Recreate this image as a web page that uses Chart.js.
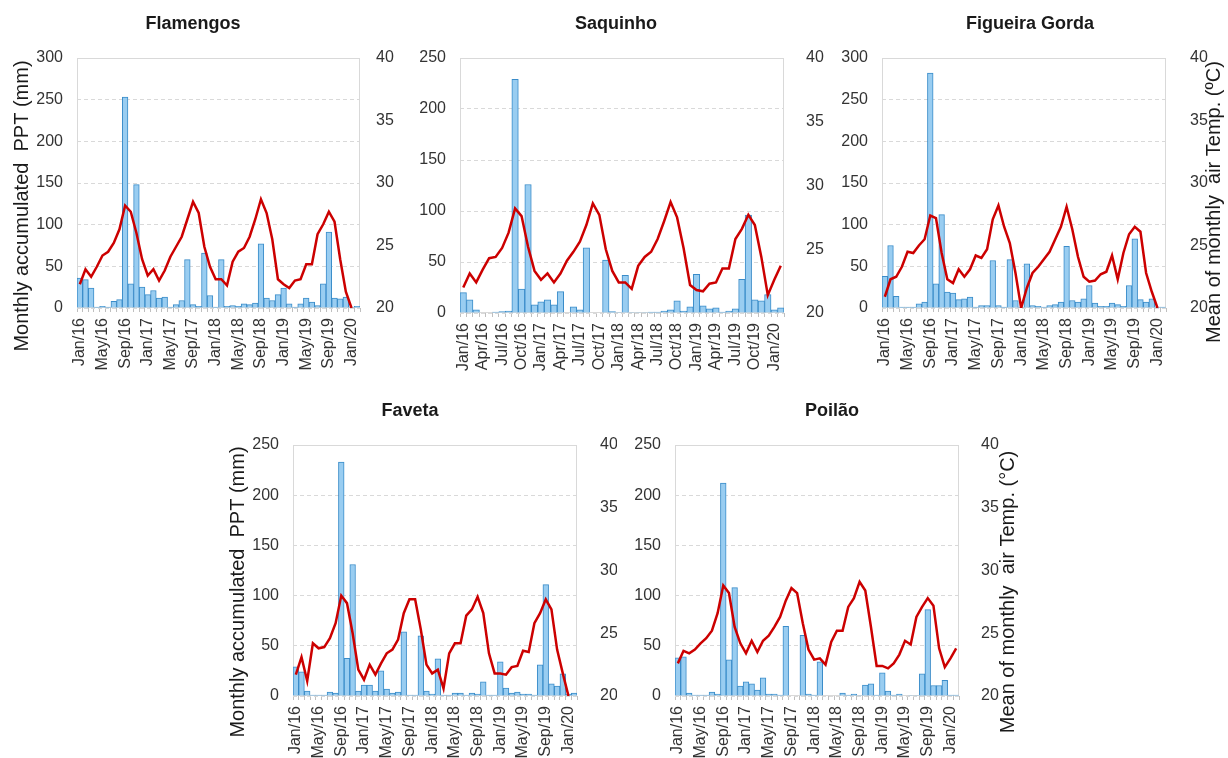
<!DOCTYPE html>
<html lang="en">
<head>
<meta charset="UTF-8">
<title>Monthly PPT and mean air temperature</title>
<script src="https://cdn.jsdelivr.net/npm/chart.js"></script>
<style>
    html, body { margin: 0; padding: 0; background: #fff; }
    #page { position: relative; width: 1228px; height: 758px; overflow: hidden; }
    #page canvas { position: absolute; }
</style>
</head>
<body>
<div id="page">
    <canvas id="flamengos"></canvas>
    <canvas id="saquinho"></canvas>
    <canvas id="figueira"></canvas>
    <canvas id="faveta"></canvas>
    <canvas id="poilao"></canvas>
</div>
<script>
// months Jan/16 .. Feb/20
const months = [
    'Jan/16','Feb/16','Mar/16','Apr/16','May/16','Jun/16','Jul/16','Aug/16','Sep/16','Oct/16','Nov/16','Dec/16',
    'Jan/17','Feb/17','Mar/17','Apr/17','May/17','Jun/17','Jul/17','Aug/17','Sep/17','Oct/17','Nov/17','Dec/17',
    'Jan/18','Feb/18','Mar/18','Apr/18','May/18','Jun/18','Jul/18','Aug/18','Sep/18','Oct/18','Nov/18','Dec/18',
    'Jan/19','Feb/19','Mar/19','Apr/19','May/19','Jun/19','Jul/19','Aug/19','Sep/19','Oct/19','Nov/19','Dec/19',
    'Jan/20','Feb/20'
];

// monthly accumulated precipitation (mm)
const pptFlamengos = [36,34,24,1,2,1,8,10, 253,29,148,25,16,21,12,13, 1,4,9,58,4,2,66,15, 1,58,2,3,2,5,4,6, 77,12,9,16,24,5,1,5, 12,7,3,29,91,12,11,13, 1,2];
const pptSaquinho = [20,13,3,0,0,1,1.5,2, 229,23.5,126,8,11,13,8,21, 0,6,3,64,0,0,52,1.5, 0.5,37,0.5,0.5,0.5,1,1,2, 3,12,2,6,38,7,4,5, 1,2,4,33,96,13,12,18, 3,5];
const pptFigueira = [38,75,14,1,1,1,5,7, 282,29,112,19,18,10,11,13, 1,3,3,57,3,1,58,9, 1,53,3,2,1,3,4,7, 74,9,7,11,27,6,2,2, 6,4,2,27,83,10,7,11, 1,1];
const pptFaveta = [29,24,5,1,1,1,4,3, 233,37.5,131,5,11,11,5,25, 7,3,4,64,1,1,60,5, 2,37,1,1,3,3,1,3, 2,14,1,1,34,8,3,4, 2,2,1,31,111,12,10,22, 2,3];
const pptPoilao = [38,39,3,1,1,1,4,2, 212,36,108,10,14,12,6,18, 2,2,1,69.5,0,0,60.5,2, 1,34,0,0,0,3,1,2, 0.5,11,12,1,23,5,1,2, 0,0.5,0.5,22,86,10.5,10.5,15.5, 1,1];

// mean of monthly air temperature (ºC)
const tempFlamengos = [21.9,23.1,22.5,23.3,24.2,24.5,25.2,26.3, 28.2,27.7,26.0,23.9,22.6,23.1,22.2,23.0, 24.1,24.9,25.7,27.1,28.5,27.6,24.9,23.3, 22.3,22.3,21.8,23.7,24.5,24.8,25.7,27.1, 28.7,27.6,25.5,22.3,21.9,21.6,22.2,22.3, 23.5,23.5,25.9,26.7,27.7,26.9,23.9,21.3, 20.0,null];
const tempSaquinho = [22.0,23.1,22.4,23.4,24.3,24.4,25.1,26.3, 28.2,27.6,25.2,23.3,22.6,23.1,22.4,23.1, 24.1,24.8,25.6,26.9,28.6,27.7,25.0,23.3, 22.4,22.4,21.9,23.7,24.4,24.8,25.8,27.2, 28.7,27.5,25.1,22.2,21.8,21.7,22.3,22.4, 23.5,23.5,25.8,26.6,27.7,26.9,24.4,21.4, 22.6,23.7];
const tempFigueira = [20.9,22.3,22.5,23.3,24.5,24.4,25.0,25.5, 27.4,27.2,24.4,22.3,22.0,23.1,22.5,23.1, 24.2,24.0,24.7,27.1,28.2,26.5,25.2,22.8, 20.0,21.6,22.8,23.3,23.9,24.5,25.5,26.5, 28.1,26.3,24.1,22.5,22.1,22.2,22.7,22.9, 24.2,22.3,24.4,25.9,26.5,26.1,22.8,21.3, 20.0,null];
const tempFaveta = [21.7,23.1,21.2,24.2,23.8,23.9,24.6,25.8, 28.0,27.4,25.0,22.1,21.3,22.5,21.7,22.6, 23.4,23.7,24.5,26.6,27.7,27.7,25.3,22.5, 21.8,22.1,20.6,23.4,24.2,24.2,26.4,26.9, 27.9,26.6,23.4,21.8,21.8,21.7,22.3,22.4, 23.6,23.5,25.8,26.6,27.7,26.9,23.7,21.8, 20.0,null];
const tempPoilao = [22.6,23.6,23.4,23.7,24.2,24.6,25.2,26.6, 28.8,28.2,25.5,24.2,23.4,24.4,23.5,24.4, 24.8,25.5,26.3,27.6,28.6,28.2,25.8,23.7, 22.9,23.0,22.5,24.3,25.2,25.2,27.1,27.8, 29.1,28.4,25.5,22.4,22.4,22.2,22.6,23.3, 24.4,24.1,26.3,27.1,27.8,27.2,23.8,22.3, 23.0,23.8];

const pptTitle = 'Monthly accumulated  PPT (mm)';
const FONT = '"Liberation Sans", Arial, Helvetica, sans-serif';

Chart.defaults.font.family = FONT;
Chart.defaults.color = '#333';

// plot frame, panel title and rotated side title
const panelText = {
    id: 'panelText',
    beforeDatasetsDraw(chart) {
        const { ctx, chartArea: a } = chart;
        ctx.save();
        ctx.strokeStyle = '#d9d9d9';
        ctx.lineWidth = 1;
        ctx.strokeRect(Math.round(a.left) + 0.5, Math.round(a.top) + 0.5,
                       Math.round(a.width) - 1, Math.round(a.height) - 1);
        ctx.restore();
    },
    afterDraw(chart, args, opts) {
        const ctx = chart.ctx;
        ctx.save();
        ctx.fillStyle = '#1a1a1a';
        ctx.textAlign = 'center';
        ctx.textBaseline = 'middle';
        ctx.font = 'bold 18px ' + FONT;
        ctx.fillText(opts.title, opts.titleX - opts.left, opts.titleY - opts.top);
        if (opts.axisTitle) {
            ctx.font = '20px ' + FONT;
            ctx.translate(opts.axisX - opts.left, opts.axisY - opts.top);
            ctx.rotate(-Math.PI / 2);
            ctx.fillText(opts.axisTitle, 0, 0);
        }
        ctx.restore();
    }
};

const panels = [
    { id: 'flamengos', title: 'Flamengos', ppt: pptFlamengos, temp: tempFlamengos, pptMax: 300, every: 4,
      box: { left: 0, top: 0, width: 404, height: 378 }, plot: { left: 77, right: 360, top: 58, bottom: 308 },
      gapR: 8, titleX: 193, titleY: 24, axisTitle: pptTitle, axisX: 22, axisY: 206 },
    { id: 'saquinho', title: 'Saquinho', ppt: pptSaquinho, temp: tempSaquinho, pptMax: 250, every: 3,
      box: { left: 410, top: 0, width: 414, height: 378 }, plot: { left: 460, right: 784, top: 58, bottom: 313 },
      gapR: 14, titleX: 616, titleY: 24 },
    { id: 'figueira', title: 'Figueira Gorda', ppt: pptFigueira, temp: tempFigueira, pptMax: 300, every: 4,
      box: { left: 835, top: 0, width: 393, height: 378 }, plot: { left: 882, right: 1166, top: 58, bottom: 308 },
      gapR: 16, titleX: 1030, titleY: 24, axisTitle: 'Mean of monthly  air Temp. (ºC)', axisX: 1214, axisY: 202 },
    { id: 'faveta', title: 'Faveta', ppt: pptFaveta, temp: tempFaveta, pptMax: 250, every: 4,
      box: { left: 220, top: 380, width: 397, height: 378 }, plot: { left: 293, right: 577, top: 445, bottom: 696 },
      gapR: 15, titleX: 410, titleY: 411, axisTitle: pptTitle, axisX: 238, axisY: 592 },
    { id: 'poilao', title: 'Poilão', ppt: pptPoilao, temp: tempPoilao, pptMax: 250, every: 4,
      box: { left: 625, top: 380, width: 404, height: 378 }, plot: { left: 675, right: 959, top: 445, bottom: 696 },
      gapR: 14, titleX: 832, titleY: 411, axisTitle: 'Mean of monthly  air Temp. (°C)', axisX: 1008, axisY: 592 }
];

panels.forEach(p => {
    const canvas = document.getElementById(p.id);
    canvas.width = p.box.width;
    canvas.height = p.box.height;
    canvas.style.left = p.box.left + 'px';
    canvas.style.top = p.box.top + 'px';

    const leftW = p.plot.left - p.box.left;
    const rightW = p.box.left + p.box.width - p.plot.right;
    const axisH = p.box.top + p.box.height - p.plot.bottom;

    new Chart(canvas, {
        type: 'bar',
        data: {
            labels: months,
            datasets: [{
                type: 'line',
                data: p.temp,
                yAxisID: 'yT',
                borderColor: '#cc0000',
                borderWidth: 2.5,
                pointRadius: 0,
                tension: 0,
                order: 0
            }, {
                type: 'bar',
                data: p.ppt,
                yAxisID: 'y',
                backgroundColor: '#99cdf1',
                borderColor: '#3a8cc9',
                borderWidth: 1,
                barPercentage: 1.0,
                categoryPercentage: 1.0,
                order: 1
            }]
        },
        options: {
            responsive: false,
            animation: false,
            devicePixelRatio: 1,
            layout: { padding: { top: p.plot.top - p.box.top, left: 0, right: 0, bottom: 0 } },
            plugins: {
                legend: { display: false },
                tooltip: { enabled: false },
                panelText: {
                    left: p.box.left, top: p.box.top,
                    title: p.title, titleX: p.titleX, titleY: p.titleY,
                    axisTitle: p.axisTitle, axisX: p.axisX, axisY: p.axisY
                }
            },
            scales: {
                x: {
                    offset: true,
                    grid: { drawOnChartArea: false, drawTicks: true, tickLength: 4, color: '#bfbfbf', offset: true },
                    border: { display: false },
                    ticks: {
                        autoSkip: false, maxRotation: 90, minRotation: 90, padding: 6,
                        font: { size: 16 },
                        callback(v, i) { return i % p.every === 0 ? this.getLabelForValue(v) : ''; }
                    },
                    afterFit(scale) { scale.height = axisH; }
                },
                y: {
                    position: 'left',
                    min: 0, max: p.pptMax,
                    grid: { color: '#d9d9d9', drawTicks: false, borderDash: [4, 3] },
                    border: { display: false, dash: [4, 3] },
                    ticks: { stepSize: 50, padding: 14, font: { size: 16 } },
                    afterFit(scale) { scale.width = leftW; }
                },
                yT: {
                    position: 'right',
                    min: 20, max: 40,
                    grid: { display: false },
                    border: { display: false },
                    ticks: { stepSize: 5, padding: p.gapR, font: { size: 16 } },
                    afterFit(scale) { scale.width = rightW; }
                }
            }
        },
        plugins: [panelText]
    });
});
</script>
</body>
</html>
